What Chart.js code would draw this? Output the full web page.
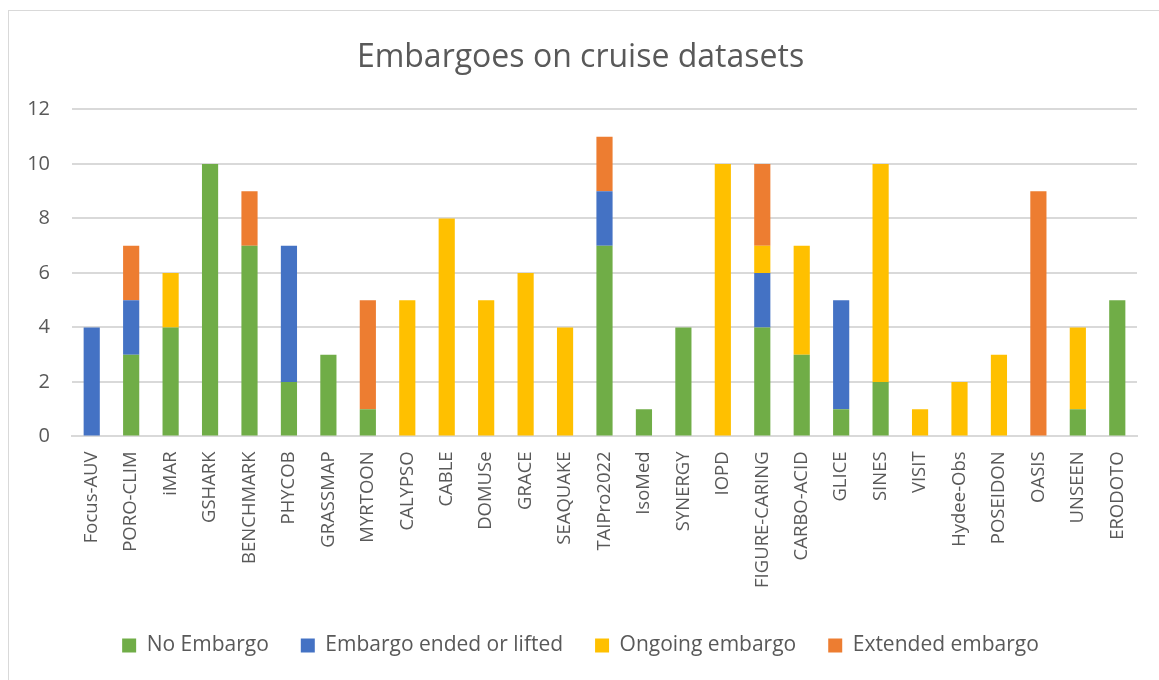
<!DOCTYPE html>
<html>
<head>
<meta charset="utf-8">
<script src="https://cdn.jsdelivr.net/npm/chart.js@4"></script>
<style>
  html, body { margin: 0; padding: 0; background: #fff; }
  #wrap { position: relative; width: 1159px; height: 680px; }
  #frame { position: absolute; left: 8px; top: 10px; width: 1160px; height: 680px; border: 1px solid #d9d9d9; box-sizing: border-box; }
  canvas { position: absolute; left: 0; top: 0; }
</style>
</head>
<body>
<div id="wrap">
  <div id="frame"></div>
  <canvas id="chart" width="1159" height="680"></canvas>
</div>
<script>
const cruises = ["Focus-AUV", "PORO-CLIM", "iMAR", "GSHARK", "BENCHMARK", "PHYCOB", "GRASSMAP", "MYRTOON",
  "CALYPSO", "CABLE", "DOMUSe", "GRACE", "SEAQUAKE", "TAIPro2022", "IsoMed", "SYNERGY", "IOPD",
  "FIGURE-CARING", "CARBO-ACID", "GLICE", "SINES", "VISIT", "Hydee-Obs", "POSEIDON", "OASIS", "UNSEEN", "ERODOTO"];

const noEmbargo = [0, 3, 4, 10, 7, 2, 3, 1, 0, 0, 0, 0, 0, 7, 1, 4, 0, 4, 3, 1, 2, 0, 0, 0, 0, 1, 5];
const endedLifted = [4, 2, 0, 0, 0, 5, 0, 0, 0, 0, 0, 0, 0, 2, 0, 0, 0, 2, 0, 4, 0, 0, 0, 0, 0, 0, 0];
const ongoing = [0, 0, 2, 0, 0, 0, 0, 0, 5, 8, 5, 6, 4, 0, 0, 0, 10, 1, 4, 0, 8, 1, 2, 3, 0, 3, 0];
const extended = [0, 2, 0, 0, 2, 0, 0, 4, 0, 0, 0, 0, 0, 2, 0, 0, 0, 3, 0, 0, 0, 0, 0, 0, 9, 0, 0];

const font = "'Open Sans', 'DejaVu Sans', sans-serif";
const grey = "#595959";

function ds(label, data, color) {
  return { label: label, data: data, backgroundColor: color, borderWidth: 0,
    barPercentage: 0.41, categoryPercentage: 1.0 };
}

new Chart(document.getElementById("chart").getContext("2d"), {
  type: "bar",
  data: {
    labels: cruises,
    datasets: [
      ds("No Embargo", noEmbargo, "#70AD47"),
      ds("Embargo ended or lifted", endedLifted, "#4472C4"),
      ds("Ongoing embargo", ongoing, "#FFC000"),
      ds("Extended embargo", extended, "#ED7D31")
    ]
  },
  options: {
    responsive: false,
    animation: false,
    layout: { padding: { left: 24, right: 22, top: 39, bottom: 14 } },
    plugins: {
      title: {
        display: true,
        text: "Embargoes on cruise datasets",
        color: grey,
        font: { family: font, size: 32, weight: "normal" },
        padding: { top: 0, bottom: 32 }
      },
      legend: {
        position: "bottom",
        labels: {
          color: grey,
          font: { family: font, size: 21 },
          boxWidth: 14,
          boxHeight: 14,
          padding: 32
        }
      },
      tooltip: { enabled: false }
    },
    scales: {
      x: {
        stacked: true,
        grid: { display: false, drawTicks: false },
        border: { color: "#d9d9d9", width: 2 },
        ticks: {
          color: grey,
          font: { family: font, size: 18.5 },
          minRotation: 90,
          maxRotation: 90,
          autoSkip: false,
          padding: 15
        }
      },
      y: {
        stacked: true,
        min: 0,
        max: 12,
        afterFit: (scale) => { scale.width = 48; },
        grid: { color: "#d9d9d9", lineWidth: 2, drawTicks: false },
        border: { display: false },
        ticks: {
          stepSize: 2,
          color: grey,
          font: { family: font, size: 20 },
          padding: 22
        }
      }
    }
  }
});
</script>
</body>
</html>
